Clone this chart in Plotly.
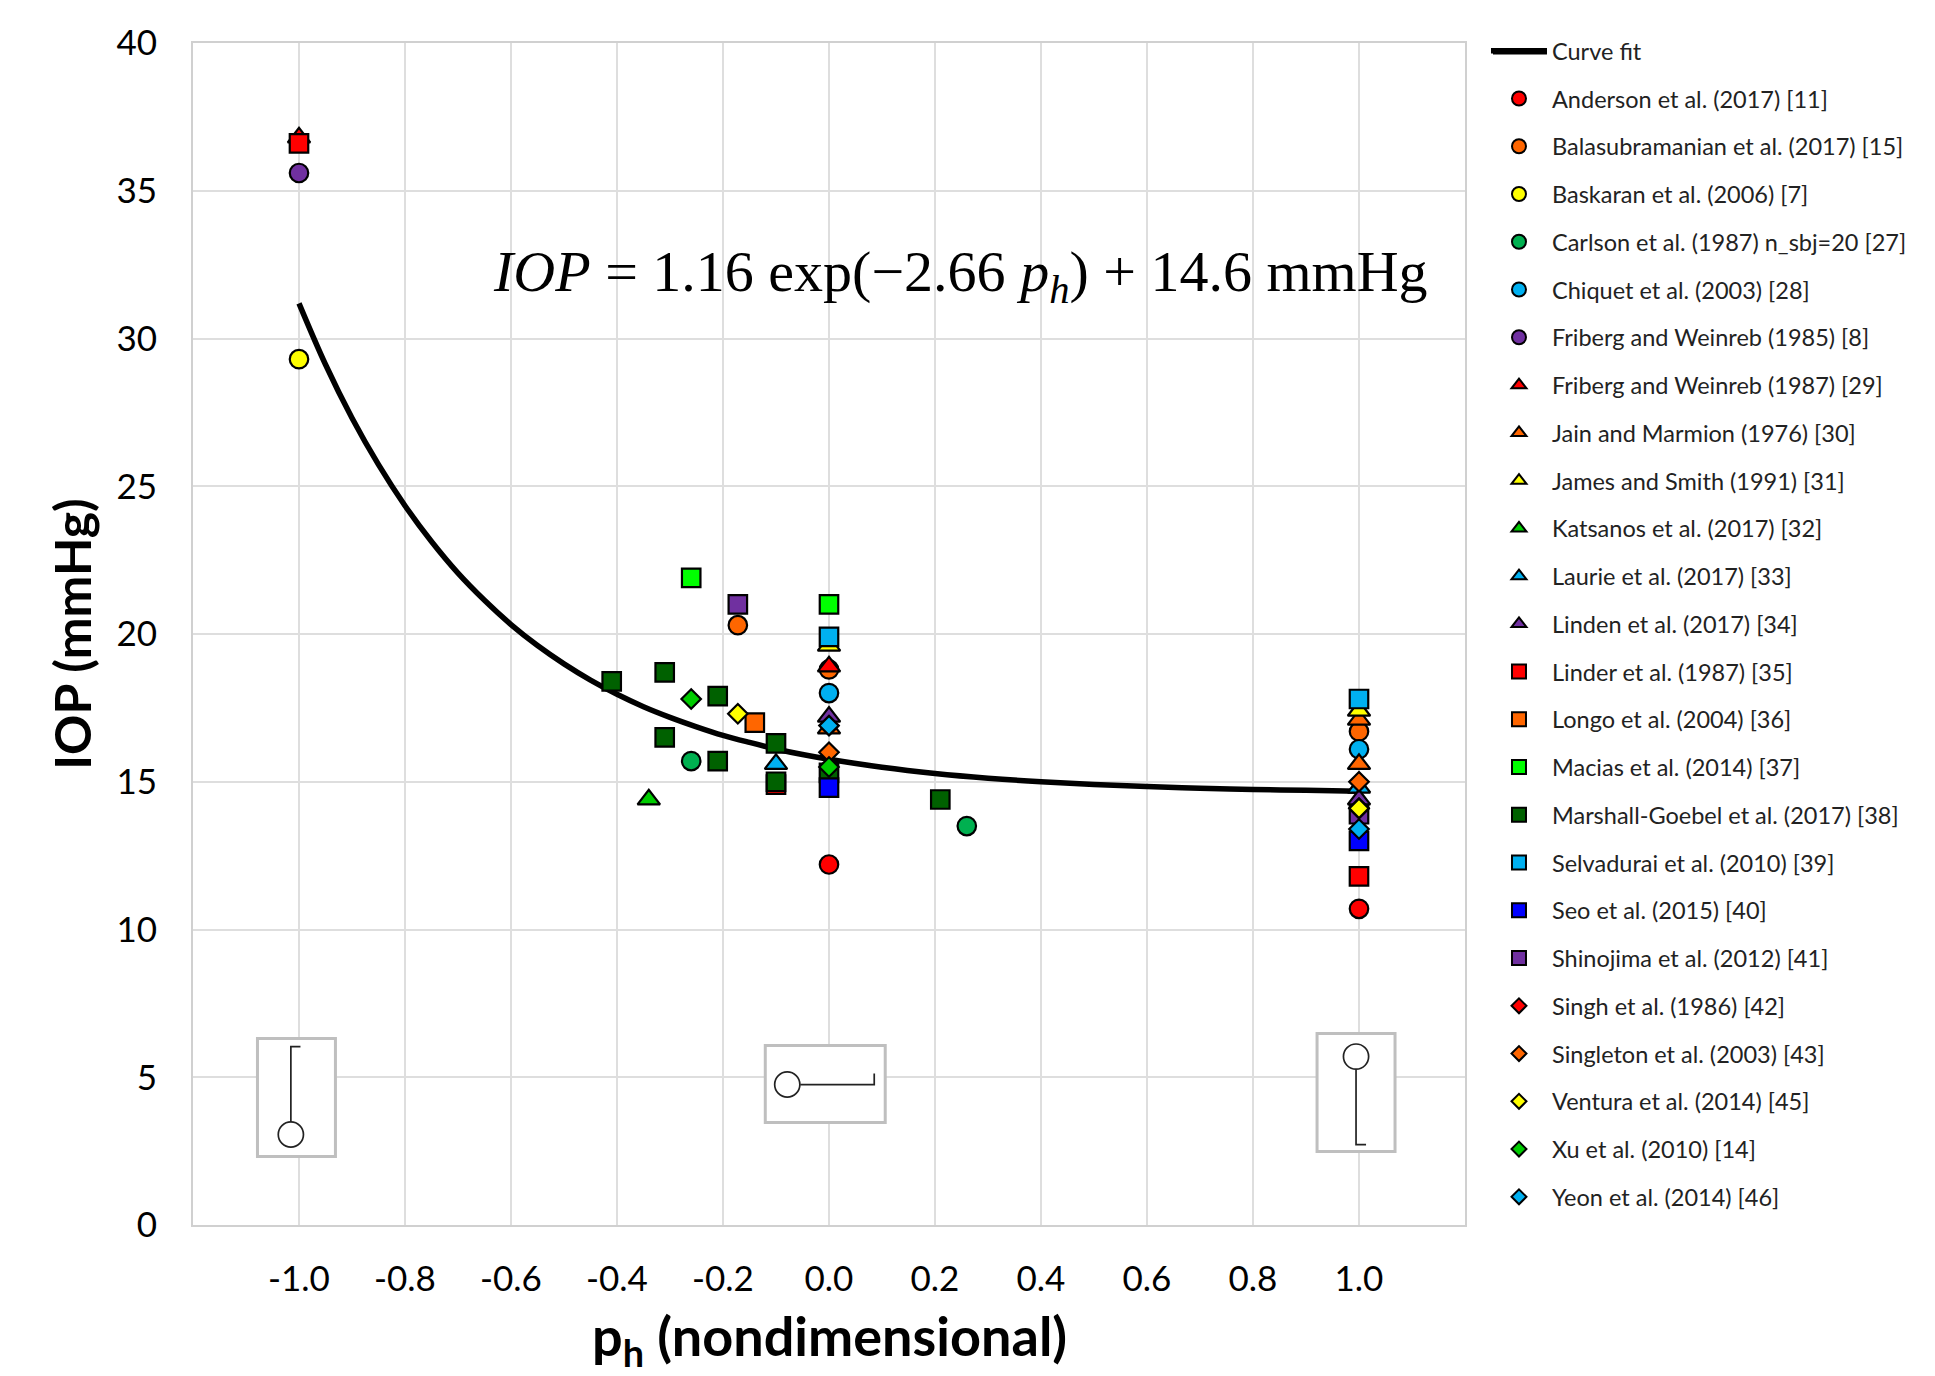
import plotly.graph_objects as go

W, H = 1935, 1376
L, R, T, B = 192.5, 1465.0, 43.0, 1225.5
FONT = "Lato"

RED, ORANGE, YELLOW, GREEN, BLUE, PURPLE = "#ff0000", "#ff6600", "#ffff00", "#00b050", "#00b0f0", "#7030a0"
LIME, MIDGREEN, DARKGREEN, PUREBLUE = "#00cc00", "#00cc00", "#006100", "#0000ff"

fit_x = [-1.0, -0.95, -0.9, -0.85, -0.8, -0.75, -0.7, -0.65, -0.6, -0.55, -0.5, -0.45, -0.4, -0.35, -0.3,
         -0.25, -0.2, -0.15, -0.1, -0.05, 0.0, 0.1, 0.2, 0.3, 0.4, 0.5, 0.6, 0.7, 0.8, 0.9, 1.0]
fit_y = [31.19, 29.12, 27.31, 25.73, 24.34, 23.13, 22.06, 21.14, 20.32, 19.61, 18.99, 18.44, 17.96, 17.54, 17.18,
         16.86, 16.57, 16.33, 16.11, 15.92, 15.76, 15.49, 15.28, 15.12, 15.0, 14.91, 14.84, 14.78, 14.74, 14.71, 14.68]

names = [
    "Anderson et al. (2017) [11]", "Balasubramanian et al. (2017) [15]", "Baskaran et al. (2006) [7]",
    "Carlson et al. (1987) n_sbj=20 [27]", "Chiquet et al. (2003) [28]", "Friberg and Weinreb (1985) [8]",
    "Friberg and Weinreb (1987) [29]", "Jain and Marmion (1976) [30]", "James and Smith (1991) [31]",
    "Katsanos et al. (2017) [32]", "Laurie et al. (2017) [33]", "Linden et al. (2017) [34]",
    "Linder et al. (1987) [35]", "Longo et al. (2004) [36]", "Macias et al. (2014) [37]",
    "Marshall-Goebel et al. (2017) [38]", "Selvadurai et al. (2010) [39]", "Seo et al. (2015) [40]",
    "Shinojima et al. (2012) [41]", "Singh et al. (1986) [42]", "Singleton et al. (2003) [43]",
    "Ventura et al. (2014) [45]", "Xu et al. (2010) [14]", "Yeon et al. (2014) [46]",
]
xs = [
    [0, 1], [-0.172, 0, 1], [-1], [-0.26, 0.26], [0, 1], [-1],
    [-1, 0], [0, 1, 1], [0, 1], [-0.34], [-0.1, 1], [0, 1],
    [-1, -0.1, 1], [-0.14], [-0.26, 0],
    [-0.41, -0.31, -0.31, -0.21, -0.21, -0.1, -0.1, 0.21, 0],
    [0, 1], [0, 1], [-0.172, 1], [1], [0, 1], [-0.172, 1], [-0.26, 0], [0, 1],
]
ys = [
    [12.2, 10.7], [20.3, 18.8, 16.7], [29.3], [15.7, 13.5], [18.0, 16.1], [35.6],
    [36.8, 18.9], [16.8, 17.1, 15.6], [19.6, 17.4], [14.4], [15.6, 14.8], [17.2, 14.4],
    [36.6, 14.9, 11.8], [17.0], [21.9, 21.0],
    [18.4, 18.7, 16.5, 17.9, 15.7, 16.3, 15.0, 14.4, 15.3],
    [19.9, 17.8], [14.8, 13.0], [21.0, 13.9], [14.1], [16.0, 15.0], [17.3, 14.1], [17.8, 15.5], [16.9, 13.4],
]
colors = [
    RED, ORANGE, YELLOW, GREEN, BLUE, PURPLE,
    RED, ORANGE, YELLOW, LIME, BLUE, PURPLE,
    RED, ORANGE, "#00ff00", DARKGREEN, BLUE, PUREBLUE, PURPLE,
    RED, ORANGE, YELLOW, MIDGREEN, BLUE,
]
symbols = ["circle"] * 6 + ["triangle-up"] * 6 + ["square"] * 7 + ["diamond"] * 5
plot_size = {"circle": 18.5, "triangle-up": 19.5, "square": 18.5, "diamond": 15}
legend_size = {"circle": 14, "triangle-up": 13, "square": 14, "diamond": 11.5}

x_ticks = [-1.0, -0.8, -0.6, -0.4, -0.2, 0.0, 0.2, 0.4, 0.6, 0.8, 1.0]
x_labels = ["-1.0", "-0.8", "-0.6", "-0.4", "-0.2", "0.0", "0.2", "0.4", "0.6", "0.8", "1.0"]
y_ticks = [0, 5, 10, 15, 20, 25, 30, 35, 40]

# Orientation insets, in page pixels
inset_boxes = [(257, 1039, 335, 1157), (765, 1046, 885, 1123), (1317, 1034, 1395, 1152)]
inset_circles = [(290.4, 1135), (787, 1085), (1356, 1057)]
inset_paths = [
    [(300, 1047), (290.4, 1047), (290.4, 1123)],
    [(800, 1085), (874, 1085), (874, 1074)],
    [(1356, 1070), (1356, 1145), (1366, 1145)],
]


def px(x):
    return (x - L) / (R - L)


def py(y):
    return (B - y) / (B - T)


fig = go.Figure()
fig.add_trace(go.Scatter(x=fit_x, y=fit_y, mode="lines", name="Curve fit", legendgroup="fit",
                         line=dict(color="black", width=5.5, shape="spline"), showlegend=True))

for i, n in enumerate(names):
    fig.add_trace(go.Scatter(
        x=xs[i], y=ys[i], mode="markers", showlegend=False, name=n,
        marker=dict(symbol=symbols[i], color=colors[i], size=plot_size[symbols[i]],
                    line=dict(color="black", width=2.2))))
for i, n in enumerate(names):
    fig.add_trace(go.Scatter(
        x=[None], y=[None], mode="markers", name=n, legendgroup=f"g{i}", showlegend=True,
        marker=dict(symbol=symbols[i], color=colors[i], size=legend_size[symbols[i]],
                    line=dict(color="black", width=2))))

shapes = []
for x0, y0, x1, y1 in inset_boxes:
    shapes.append(dict(type="rect", xref="paper", yref="paper", x0=px(x0), x1=px(x1), y0=py(y0), y1=py(y1),
                       line=dict(color="#bfbfbf", width=3), fillcolor="white", layer="above"))
for pts in inset_paths:
    d = "M " + " L ".join(f"{px(a):.5f},{py(b):.5f}" for a, b in pts)
    shapes.append(dict(type="path", xref="paper", yref="paper", path=d,
                       line=dict(color="#222222", width=1.7), layer="above"))
for cx, cy in inset_circles:
    r = 12.6
    shapes.append(dict(type="circle", xref="paper", yref="paper", x0=px(cx - r), x1=px(cx + r),
                       y0=py(cy + r), y1=py(cy - r),
                       line=dict(color="#222222", width=1.7), fillcolor="white", layer="above"))
# long legend key of the curve fit
shapes.append(dict(type="line", xref="paper", yref="paper", x0=px(1493), x1=px(1547), y0=py(52), y1=py(52),
                   line=dict(color="black", width=5), layer="above"))

annotations = [
    dict(xref="paper", yref="paper", x=px(491), y=py(276), xanchor="left", yanchor="middle", showarrow=False,
         text="<i>IOP</i> = 1.16 exp(−2.66 <i>p<sub>h</sub></i>) + 14.6 mmHg",
         font=dict(family="Liberation Serif", size=58, color="black")),
    dict(xref="paper", yref="paper", x=0.5, y=py(1340), xanchor="center", yanchor="middle", showarrow=False,
         text="<b>p<sub>h</sub> (nondimensional)</b>",
         font=dict(family=FONT, size=54, color="black")),
]

fig.update_layout(
    width=W, height=H, autosize=False, paper_bgcolor="white", plot_bgcolor="white",
    margin=dict(l=L, r=W - R, t=T, b=H - B, pad=0),
    font=dict(family=FONT, color="black"),
    shapes=shapes, annotations=annotations,
    legend=dict(x=px(1486), y=py(29), xanchor="left", yanchor="top", traceorder="grouped",
                tracegroupgap=14.2, itemwidth=56, bgcolor="rgba(0,0,0,0)", maxheight=1340,
                font=dict(family=FONT, size=23.5, color="#222222")),
    xaxis=dict(range=[-1.2, 1.2], tickmode="array", tickvals=x_ticks, ticktext=x_labels,
               automargin=False,
               showgrid=True, gridcolor="#dedede", gridwidth=2, zeroline=False,
               showline=True, linecolor="#d0d0d0", linewidth=2, mirror=True,
               ticks="outside", ticklen=22, tickcolor="rgba(0,0,0,0)",
               tickfont=dict(family=FONT, size=35, color="black")),
    yaxis=dict(range=[0, 40], tickmode="array", tickvals=y_ticks,
               automargin=False,
               showgrid=True, gridcolor="#dedede", gridwidth=2, zeroline=False,
               showline=True, linecolor="#d0d0d0", linewidth=2, mirror=True,
               ticks="outside", ticklen=27, tickcolor="rgba(0,0,0,0)",
               tickfont=dict(family=FONT, size=35, color="black"),
               title=dict(text="<b>IOP (mmHg)</b>", standoff=9,
                          font=dict(family=FONT, size=50, color="black"))),
)

fig.write_html("out.html", config=dict(displayModeBar=False),
               post_script="document.body.style.margin='0';document.body.style.overflow='hidden';")
